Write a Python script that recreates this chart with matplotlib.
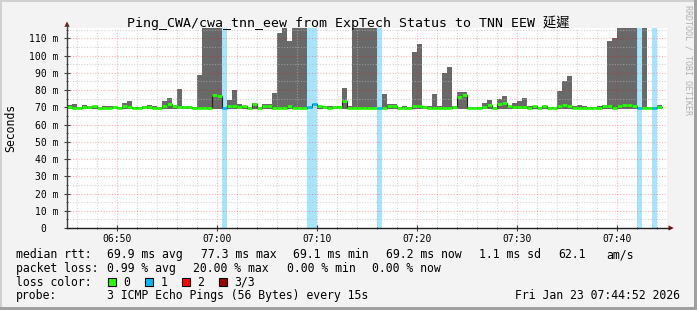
import numpy as np
import matplotlib
matplotlib.use("Agg")
import matplotlib.pyplot as plt
from matplotlib.patches import Rectangle, Polygon
from matplotlib.lines import Line2D
from matplotlib.ticker import FixedLocator

nan = float("nan")

# ---------------- data (30 s bins starting 06:45) ----------------
STEP_MIN = 0.5
smoke_max = [
    71.5, 71.8, 70.0, 71.5, 70.5, 71.0, 70.0, 70.8, 70.6, 70.8,
    70.2, 72.5, 73.5, 70.0, 70.0, 70.8, 71.5, 70.8, 70.0, 73.6,
    75.5, 71.5, 80.4, 71.0, 70.5, 70.0, 89.0, 140, 140, 140,
    140, 140, 74.0, 80.0, 72.0, 71.0, 70.0, 72.7, 70.0, 71.8,
    72.0, 78.5, 113, 140, 108.5, 140, 140, 140, 140, 140,
    71.0, 71.0, 71.0, 71.0, 71.0, 81.0, 70.5, 140, 140, 140,
    140, 140, 140, 78.0, 72.0, 71.7, 70.0, 70.5, 70.0, 102,
    107, 70.8, 70.8, 78.0, 71.0, 90.0, 93.5, 71.0, 79.0, 79.0,
    70.0, 70.3, 70.0, 72.5, 74.0, 70.0, 75.0, 76.5, 70.8, 72.5,
    73.5, 75.5, 71.0, 71.0, 70.0, 71.0, 70.0, 70.0, 79.5, 85.5,
    88.0, 71.0, 71.2, 71.0, 70.0, 70.0, 70.5, 71.2, 108.5, 110,
    140, 140, 140, 140, 140, 140, 70.3, 140, 71.5, nan,
]
median = [
    70.3, 69.8, 69.6, 70.3, 69.9, 70.5, 69.7, 69.8, 69.6, 70.2,
    69.7, 71.0, 70.3, 69.6, 69.7, 69.9, 70.0, 69.8, 69.7, 70.5,
    72.0, 71.0, 70.0, 70.0, 69.9, 69.7, 69.6, 69.6, 69.7, 77.0,
    76.5, 69.5, 70.5, 71.0, 70.0, 70.5, 69.7, 72.0, 69.8, 71.0,
    70.5, 69.8, 69.7, 69.7, 70.5, 69.7, 69.8, 69.7, 70.4, 71.7,
    70.5, 70.0, 69.8, 70.2, 69.9, 73.5, 69.8, 69.7, 69.7, 69.8,
    69.7, 69.7, 69.5, 69.8, 71.0, 71.0, 69.7, 69.8, 69.7, 70.5,
    71.0, 69.9, 69.8, 69.8, 69.7, 69.8, 69.7, 69.9, 76.0, 77.0,
    69.7, 69.8, 69.7, 70.0, 71.2, 69.7, 72.0, 72.5, 70.5, 69.9,
    70.0, 70.2, 69.8, 70.5, 69.7, 71.0, 69.7, 69.8, 71.0, 71.5,
    70.5, 69.7, 69.8, 69.7, 69.7, 69.8, 69.7, 70.8, 70.8, 69.6,
    71.0, 71.5, 71.2, 70.8, 69.8, 69.8, 69.8, 69.8, 69.9, nan,
]
loss = [0] * 120
for _i in [31, 48, 49, 62, 114, 117]:
    loss[_i] = 1
SMOKE_MIN_MS = 69.3

X_TICK_POS = [5, 15, 25, 35, 45, 55]
X_TICK_LABELS = ["06:50", "07:00", "07:10", "07:20", "07:30", "07:40"]
Y_TICKS = [0, 10, 20, 30, 40, 50, 60, 70, 80, 90, 100, 110]
Y_TICK_LABELS = ["0  ", "10 m", "20 m", "30 m", "40 m", "50 m", "60 m",
                 "70 m", "80 m", "90 m", "100 m", "110 m"]

TITLE = "Ping_CWA/cwa_tnn_eew from ExpTech Status to TNN EEW 延遲"
ROW1 = [(16, "median rtt:"), (107.3, "69.9 ms avg"), (200.7, "77.3 ms max"),
        (293.3, "69.1 ms min"), (386, "69.2 ms now"), (479.3, "1.1 ms sd"),
        (558.3, "62.1"), (606.7, "am/s")]
ROW2 = [(16, "packet loss:"), (107.3, "0.99 % avg"), (193.3, "20.00 % max"),
        (287.3, "0.00 % min"), (372.3, "0.00 % now")]
LOSS_LEGEND = [("0", "#26ff00"), ("1", "#00b8ff"), ("2", "#ff0000"), ("3/3", "#a00000")]
LOSS_COLORS = {0: "#26ff00", 1: "#00b8ff", 2: "#ff0000", 3: "#a00000"}
BAND_COLORS = {1: "#a6e5ff", 2: "#ffa6a6", 3: "#e0a6a6"}
PROBE = "3 ICMP Echo Pings (56 Bytes) every 15s"
DATE = "Fri Jan 23 07:44:52 2026"

# ---------------- figure ----------------
W, H = 697, 310
MONO = "DejaVu Sans Mono"
fig = plt.figure(figsize=(W / 100, H / 100), dpi=100, facecolor="#f3f3f3")


def fx(px):
    return px / W


def fy(py):
    return 1 - py / H


L, R, T, B = 67, 667, 28, 228
YMAX = 116
ax = fig.add_axes([fx(L), fy(B), (R - L) / W, (B - T) / H])
ax.set_facecolor("white")
ax.set_xlim(0, 60)
ax.set_ylim(0, YMAX)

med = np.array(median, dtype=float)
smk = np.array(smoke_max, dtype=float)
lss = np.array(loss)
t = np.arange(len(med)) * STEP_MIN

# smoke
ok = ~np.isnan(smk)
ax.bar(t[ok], smk[ok] - SMOKE_MIN_MS, bottom=SMOKE_MIN_MS, width=STEP_MIN,
       align="edge", color="#696969", linewidth=0, zorder=1)
# loss bands
for lv, col in BAND_COLORS.items():
    m = lss == lv
    if m.any():
        ax.bar(t[m], YMAX + 10, bottom=0, width=STEP_MIN, align="edge",
               color=col, linewidth=0, zorder=1.2)

# grid (drawn over smoke, like rrdtool)
ax.xaxis.set_major_locator(FixedLocator(X_TICK_POS))
ax.xaxis.set_minor_locator(FixedLocator(np.arange(1, 60, 2)))
ax.yaxis.set_major_locator(FixedLocator(Y_TICKS))
ax.yaxis.set_minor_locator(FixedLocator(np.arange(5, YMAX, 10)))
ax.set_xticklabels(X_TICK_LABELS)
ax.set_yticklabels(Y_TICK_LABELS)
ax.set_axisbelow(False)
ax.grid(which="minor", color="#b8b8b8", alpha=0.6, linestyle=(0, (1, 1.5)), linewidth=0.8)
ax.grid(which="major", color="#ff0000", alpha=0.3, linestyle=(0, (1, 1.5)), linewidth=0.8)

# median line: thin dark step line + coloured horizontal pieces
ok = ~np.isnan(med)
tx = np.append(t[ok], t[ok][-1] + STEP_MIN)
ty = np.append(med[ok], med[ok][-1])
ax.step(tx, ty, where="post", color="#202020", linewidth=0.8, zorder=3)
cols = [LOSS_COLORS[int(v)] for v in lss[ok]]
ax.hlines(med[ok], t[ok], t[ok] + STEP_MIN, colors=cols, linewidth=2.0, zorder=4)

for s in ax.spines.values():
    s.set_visible(False)
ax.tick_params(which="major", direction="inout", length=4, width=0.8, color="#404040",
               labelsize=7, pad=2.5)
ax.tick_params(which="minor", direction="inout", length=2, width=0.6, color="#404040")
for lab in ax.get_xticklabels() + ax.get_yticklabels():
    lab.set_family(MONO)
    lab.set_color("#000000")
ax.tick_params(axis="y", which="major", pad=4)

# axes lines and arrows
fig.add_artist(Line2D([fx(L), fx(L)], [fy(B), fy(24)], color="#404040", linewidth=1))
fig.add_artist(Line2D([fx(L), fx(670)], [fy(B), fy(B)], color="#202020", linewidth=1))
fig.add_artist(Polygon([[fx(L), fy(21.5)], [fx(L - 2.6), fy(26.8)], [fx(L + 2.6), fy(26.8)]],
                       closed=True, color="#8b1010", linewidth=0))
fig.add_artist(Polygon([[fx(673.8), fy(B)], [fx(668.5), fy(B - 2.6)], [fx(668.5), fy(B + 2.6)]],
                       closed=True, color="#8b1010", linewidth=0))

# texts
fig.text(fx(348.5), fy(26.5), TITLE, ha="center", va="baseline", fontsize=9.5,
         family=[MONO, "Noto Sans CJK TC"], color="#000000")
fig.text(fx(11), fy(128), "Seconds", rotation=90, ha="center", va="center",
         fontsize=8.3, family=MONO, color="#000000")
fig.text(fx(688), fy(5), "RRDTOOL / TOBI OETIKER", rotation=-90, ha="center", va="top",
         fontsize=6, family=MONO, color="#b0b0b0")

LEG_FS = 8.3
for x, s in ROW1:
    fig.text(fx(x), fy(258), s, ha="left", va="baseline", fontsize=LEG_FS, family=MONO)
for x, s in ROW2:
    fig.text(fx(x), fy(271.8), s, ha="left", va="baseline", fontsize=LEG_FS, family=MONO)
fig.text(fx(16), fy(285.5), "loss color:", ha="left", va="baseline", fontsize=LEG_FS, family=MONO)
box_x = 108.3
for lbl, col in LOSS_LEGEND:
    fig.add_artist(Rectangle((fx(box_x), fy(286.3)), 7.4 / W, 8 / H, facecolor=col,
                             edgecolor="#000000", linewidth=0.8))
    fig.text(fx(box_x + 15), fy(285.5), lbl, ha="left", va="baseline", fontsize=LEG_FS, family=MONO)
    box_x += 37
fig.text(fx(16), fy(299.3), "probe:", ha="left", va="baseline", fontsize=LEG_FS, family=MONO)
fig.text(fx(107.3), fy(299.3), PROBE, ha="left", va="baseline", fontsize=LEG_FS, family=MONO)
fig.text(fx(680), fy(299.3), DATE, ha="right", va="baseline", fontsize=LEG_FS, family=MONO)

# 3-D frame
fig.add_artist(Rectangle((0, fy(2)), 1, 2 / H, facecolor="#d0d0d0", linewidth=0))
fig.add_artist(Rectangle((0, 0), 2 / W, 1, facecolor="#d0d0d0", linewidth=0))
fig.add_artist(Rectangle((0, 0), 1, 3 / H, facecolor="#a0a0a0", linewidth=0))
fig.add_artist(Rectangle((fx(694), 0), 3 / W, 1, facecolor="#a0a0a0", linewidth=0))

fig.savefig("out.png", dpi=100, facecolor=fig.get_facecolor())
